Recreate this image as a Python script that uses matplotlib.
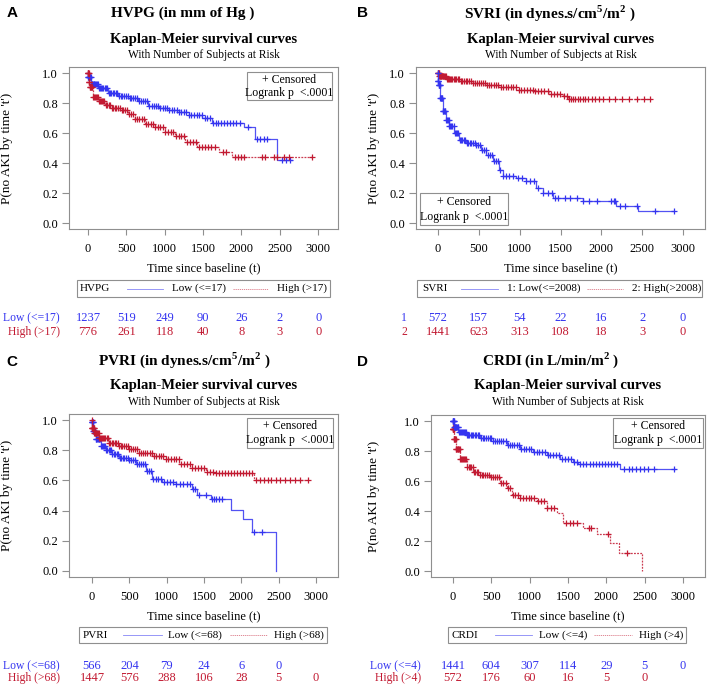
import numpy as np
import matplotlib
matplotlib.use("Agg")
import matplotlib.pyplot as plt
from matplotlib.patches import Rectangle
from matplotlib.lines import Line2D
from matplotlib.transforms import blended_transform_factory

plt.rcParams['font.family'] = 'Liberation Serif'
plt.rcParams['mathtext.fontset'] = 'custom'
plt.rcParams['mathtext.rm'] = 'Liberation Serif'
plt.rcParams['mathtext.bf'] = 'Liberation Serif:bold'

BLUE = '#3434f0'
RED = '#c21a32'
FRAME = '#8f8f8f'

risk_times = [0, 500, 1000, 1500, 2000, 2500, 3000]

# ---- A: HVPG
hvpg_low_t = [0, 3, 44, 131, 263, 394, 526, 657, 788, 920, 1051, 1183, 1314, 1489, 1621, 2037, 2181, 2462, 2663]
hvpg_low_s = [1.0, 0.976, 0.93, 0.897, 0.868, 0.847, 0.834, 0.814, 0.777, 0.766, 0.755, 0.743, 0.723, 0.698, 0.667, 0.642, 0.558, 0.418, 0.418]
hvpg_low_cens = [1, 3, 6, 10, 14, 19, 25, 31, 38, 46, 54, 63, 72, 82, 93, 104, 116, 128, 141, 155, 169, 184,
                 199, 215, 232, 249, 267, 285, 304, 323, 343, 363, 384, 405, 427, 449, 472, 495, 518, 542,
                 566, 591, 616, 641, 667, 693, 719, 746, 773, 800, 828, 856, 884, 913, 942, 971, 1001, 1031,
                 1061, 1092, 1123, 1154, 1186, 1218, 1250, 1283, 1316, 1349, 1383, 1417, 1451, 1486, 1521,
                 1556, 1592, 1628, 1664, 1700, 1737, 1774, 1811, 1848, 1890, 1930, 1975, 2090, 2200, 2240,
                 2290, 2330, 2530, 2580, 2630]
hvpg_high_t = [0, 9, 22, 66, 131, 219, 307, 438, 526, 613, 745, 876, 1007, 1139, 1270, 1424, 1708, 1883, 2926]
hvpg_high_s = [1.0, 0.94, 0.908, 0.84, 0.813, 0.79, 0.766, 0.755, 0.728, 0.694, 0.66, 0.637, 0.608, 0.581, 0.542, 0.506, 0.475, 0.438, 0.438]
hvpg_high_cens = [1, 2, 4, 7, 10, 14, 18, 23, 29, 35, 42, 50, 58, 67, 77, 88, 99, 111, 124, 137, 151, 166,
                  181, 197, 214, 231, 249, 268, 287, 307, 327, 348, 370, 392, 415, 438, 462, 486, 511, 536,
                  562, 588, 615, 642, 670, 698, 727, 756, 786, 816, 847, 878, 910, 942, 975, 1008, 1042,
                  1076, 1111, 1146, 1182, 1218, 1255, 1292, 1330, 1368, 1407, 1446, 1486, 1526, 1566, 1606,
                  1650, 1760, 1800, 1920, 1950, 1990, 2030, 2270, 2310, 2430, 2470, 2560, 2620, 2920]
hvpg_risk_low = [1237, 519, 249, 90, 26, 2, 0]
hvpg_risk_high = [776, 261, 118, 40, 8, 3, 0]

# ---- B: SVRI
svri_low_t = [0, 2, 8, 24, 57, 98, 139, 200, 261, 343, 465, 527, 588, 669, 751, 792, 955, 1078, 1200, 1282, 1404, 1771, 2180, 2445, 2894]
svri_low_s = [1.0, 0.95, 0.922, 0.833, 0.744, 0.689, 0.644, 0.60, 0.556, 0.533, 0.518, 0.489, 0.456, 0.411, 0.356, 0.311, 0.30, 0.278, 0.233, 0.20, 0.167, 0.144, 0.111, 0.082, 0.082]
svri_low_cens = [1, 2, 4, 6, 9, 12, 15, 19, 23, 28, 33, 38, 44, 50, 57, 64, 72, 80, 89, 98, 108, 118, 129,
                 140, 152, 164, 177, 190, 204, 218, 233, 248, 264, 280, 297, 314, 332, 350, 369, 388, 408,
                 428, 449, 470, 492, 514, 537, 560, 584, 608, 633, 658, 684, 710, 737, 764, 792, 830, 870,
                 920, 975, 1030, 1080, 1130, 1180, 1230, 1290, 1350, 1400, 1430, 1470, 1560, 1620, 1700,
                 1780, 1850, 1950, 2120, 2150, 2170, 2230, 2290, 2430, 2650, 2890]
svri_high_t = [0, 16, 98, 261, 424, 588, 751, 955, 1159, 1363, 1527, 1588, 2608]
svri_high_s = [1.0, 0.978, 0.962, 0.949, 0.933, 0.918, 0.904, 0.889, 0.878, 0.86, 0.844, 0.829, 0.829]
svri_high_cens = [1, 3, 5, 8, 12, 16, 21, 27, 33, 40, 48, 56, 65, 75, 85, 96, 108, 120, 133, 147, 161, 176,
                  192, 208, 225, 242, 260, 279, 298, 318, 338, 359, 381, 403, 426, 449, 473, 497, 522, 547,
                  573, 599, 626, 653, 681, 709, 738, 767, 797, 827, 858, 889, 921, 953, 986, 1019, 1053,
                  1087, 1122, 1157, 1193, 1229, 1266, 1303, 1341, 1379, 1418, 1457, 1497, 1537, 1577, 1600,
                  1625, 1650, 1680, 1710, 1740, 1770, 1800, 1840, 1880, 1920, 1970, 2020, 2090, 2170, 2250,
                  2340, 2430, 2520, 2600]
svri_risk_low = [572, 157, 54, 22, 16, 2, 0]
svri_risk_high = [1441, 623, 313, 108, 18, 3, 0]

# ---- C: PVRI
pvri_low_t = [0, 13, 49, 116, 183, 272, 362, 496, 585, 719, 808, 942, 1121, 1344, 1411, 1589, 1866, 2022, 2147, 2460]
pvri_low_s = [0.99, 0.927, 0.872, 0.827, 0.799, 0.772, 0.75, 0.732, 0.706, 0.662, 0.611, 0.591, 0.573, 0.546, 0.502, 0.476, 0.407, 0.341, 0.259, 0.0]
pvri_low_cens = [1, 3, 5, 8, 11, 15, 20, 25, 31, 37, 44, 52, 60, 69, 78, 88, 99, 110, 122, 134, 147, 161,
                 175, 190, 205, 221, 238, 255, 273, 291, 310, 329, 349, 369, 390, 411, 433, 455, 478, 501,
                 525, 549, 574, 599, 625, 651, 678, 705, 733, 761, 790, 820, 850, 885, 920, 960, 1000, 1040,
                 1085, 1130, 1175, 1220, 1265, 1310, 1355, 1380, 1430, 1520, 1600, 1630, 1660, 1700, 1740,
                 2170, 2270]
pvri_high_t = [0, 2, 27, 94, 228, 362, 496, 629, 808, 987, 1165, 1344, 1522, 1656, 2170, 2897]
pvri_high_s = [1.0, 0.95, 0.916, 0.883, 0.85, 0.827, 0.805, 0.783, 0.761, 0.739, 0.71, 0.684, 0.655, 0.646, 0.606, 0.606]
pvri_high_cens = [1, 2, 4, 6, 9, 12, 16, 20, 25, 31, 37, 44, 52, 60, 69, 79, 89, 100, 112, 124, 137, 151,
                  165, 180, 196, 212, 229, 246, 264, 283, 302, 322, 342, 363, 385, 407, 430, 453, 477, 501,
                  526, 551, 577, 603, 630, 657, 685, 713, 742, 771, 801, 831, 862, 893, 925, 957, 990, 1023,
                  1057, 1091, 1126, 1161, 1197, 1233, 1270, 1307, 1345, 1383, 1422, 1461, 1500, 1540, 1580,
                  1620, 1660, 1700, 1740, 1780, 1820, 1860, 1900, 1940, 1980, 2020, 2060, 2100, 2140, 2200,
                  2250, 2300, 2350, 2400, 2460, 2520, 2580, 2650, 2720, 2790, 2890]
pvri_risk_low = [566, 204, 79, 24, 6, 0]
pvri_risk_high = [1447, 576, 288, 106, 28, 5, 0]

# ---- D: CRDI
crdi_low_t = [0, 13, 70, 178, 352, 526, 700, 874, 1048, 1222, 1396, 1570, 1635, 2178, 2896]
crdi_low_s = [1.0, 0.96, 0.927, 0.909, 0.887, 0.865, 0.838, 0.816, 0.794, 0.772, 0.75, 0.728, 0.712, 0.679, 0.679]
crdi_low_cens = [1, 2, 4, 6, 9, 12, 16, 20, 25, 31, 37, 44, 52, 60, 69, 79, 89, 100, 112, 124, 137, 151,
                 165, 180, 196, 212, 229, 246, 264, 283, 302, 322, 342, 363, 385, 407, 430, 453, 477, 501,
                 526, 551, 577, 603, 630, 657, 685, 713, 742, 771, 801, 831, 862, 893, 925, 957, 990, 1023,
                 1057, 1091, 1126, 1161, 1197, 1233, 1270, 1307, 1345, 1383, 1422, 1461, 1500, 1540, 1580,
                 1620, 1660, 1700, 1740, 1780, 1820, 1860, 1900, 1940, 1980, 2020, 2060, 2100, 2140, 2230,
                 2290, 2340, 2390, 2440, 2490, 2540, 2620, 2880]
crdi_high_t = [0, 1, 13, 39, 91, 178, 265, 352, 483, 613, 700, 765, 874, 1091, 1222, 1352, 1439, 1700, 1874, 2048, 2170, 2461]
crdi_high_s = [1.0, 0.95, 0.883, 0.816, 0.75, 0.695, 0.661, 0.639, 0.628, 0.584, 0.551, 0.507, 0.489, 0.467, 0.418, 0.385, 0.319, 0.285, 0.246, 0.186, 0.119, 0.0]
crdi_high_cens = [1, 2, 3, 5, 7, 9, 12, 15, 19, 23, 28, 33, 39, 45, 52, 60, 68, 77, 87, 97, 108, 120, 132,
                  145, 159, 173, 188, 204, 220, 237, 255, 273, 292, 312, 332, 353, 375, 397, 420, 444, 468,
                  493, 518, 544, 571, 598, 626, 655, 685, 715, 746, 778, 810, 843, 877, 912, 948, 985, 1023,
                  1062, 1102, 1143, 1185, 1228, 1272, 1317, 1470, 1520, 1570, 1620, 1770, 1800, 2020, 2270]
crdi_risk_low = [1441, 604, 307, 114, 29, 5, 0]
crdi_risk_high = [572, 176, 60, 16, 5, 0]

W, H = 709, 688
fig = plt.figure(figsize=(W / 100, H / 100), dpi=100)


def ftext(x, y, s, **kw):
    return fig.text(x / W, 1 - y / H, s, **kw)


def fline(x0, x1, y, **kw):
    fig.add_artist(Line2D([x0 / W, x1 / W], [1 - y / H, 1 - y / H],
                          transform=fig.transFigure, **kw))


def fbox(l, t, r, b):
    fig.add_artist(Rectangle((l / W, 1 - b / H), (r - l) / W, (b - t) / H,
                             transform=fig.transFigure, fill=False,
                             edgecolor=FRAME, linewidth=0.8))


panels = [
    dict(letter='A', title='HVPG (in mm of Hg )',
         curves=[(hvpg_low_t, hvpg_low_s, hvpg_low_cens, BLUE, '-'),
                 (hvpg_high_t, hvpg_high_s, hvpg_high_cens, RED, (0, (1.5, 1)))],
         legend=['HVPG', 'Low (<=17)', 'High (>17)'],
         risk_names=['Low (<=17)', 'High (>17)'],
         risk=[hvpg_risk_low, hvpg_risk_high],
         ax=(69, 67, 338, 229), xlim=(-248, 3259), letter_xy=(12, 13), title_x=183,
         top=0, ylab_x=13, cbox=(247, 72, 332, 100),
         leg=(77, 280, 330, 297, 80, 127, 163, 172, 233, 268, 277),
         risk_y=(318, 332), risk_lab_x=60),
    dict(letter='B', title=r'SVRI (in dynes.s/cm$^{\mathbf{5}}$/m$^{\mathbf{2}}$ )',
         curves=[(svri_high_t, svri_high_s, svri_high_cens, RED, (0, (1.5, 1))),
                 (svri_low_t, svri_low_s, svri_low_cens, BLUE, '-')],
         legend=['SVRI', '1: Low(<=2008)', '2: High(>2008)'],
         risk_names=['1', '2'],
         risk=[svri_risk_low, svri_risk_high],
         ax=(416, 67, 705, 229), xlim=(-269, 3268), letter_xy=(362, 13), title_x=550,
         top=0, ylab_x=380, cbox=(420, 193, 508, 225),
         leg=(417, 280, 702, 297, 422, 461, 498, 507, 587, 623, 632),
         risk_y=(318, 332), risk_lab_x=407),
    dict(letter='C', title=r'PVRI (in dynes.s/cm$^{\mathbf{5}}$/m$^{\mathbf{2}}$ )',
         curves=[(pvri_low_t, pvri_low_s, pvri_low_cens, BLUE, '-'),
                 (pvri_high_t, pvri_high_s, pvri_high_cens, RED, (0, (1.5, 1)))],
         legend=['PVRI', 'Low (<=68)', 'High (>68)'],
         risk_names=['Low (<=68)', 'High (>68)'],
         risk=[pvri_risk_low, pvri_risk_high],
         ax=(69, 414, 338, 577), xlim=(-308, 3293), letter_xy=(12, 362), title_x=184,
         top=347, ylab_x=13, cbox=(247, 418, 333, 448),
         leg=(79, 627, 327, 643, 83, 123, 162, 168, 230, 267, 274),
         risk_y=(666, 678), risk_lab_x=60),
    dict(letter='D', title=r'CRDI (in L/min/m$^{\mathbf{2}}$ )',
         curves=[(crdi_high_t, crdi_high_s, crdi_high_cens, RED, (0, (1.5, 1))),
                 (crdi_low_t, crdi_low_s, crdi_low_cens, BLUE, '-')],
         legend=['CRDI', 'Low (<=4)', 'High (>4)'],
         risk_names=['Low (<=4)', 'High (>4)'],
         risk=[crdi_risk_low, crdi_risk_high],
         ax=(431, 415, 705, 577), xlim=(-287, 3286), letter_xy=(362, 362), title_x=551,
         top=347, ylab_x=380, cbox=(613, 418, 703, 448),
         leg=(448, 627, 686, 643, 452, 495, 532, 539, 594, 632, 639),
         risk_y=(666, 678), risk_lab_x=421),
]

for p in panels:
    l, t, r, b = p['ax']
    ax = fig.add_axes([l / W, 1 - b / H, (r - l) / W, (b - t) / H])
    ax.set_xlim(*p['xlim'])
    ax.set_ylim(-0.04, 1.04)
    for sp in ax.spines.values():
        sp.set_color(FRAME)
        sp.set_linewidth(0.8)
    ax.set_xticks(risk_times)
    ax.set_yticks([0.0, 0.2, 0.4, 0.6, 0.8, 1.0])
    ax.set_yticklabels(['0.0', '0.2', '0.4', '0.6', '0.8', '1.0'])
    ax.tick_params(axis='both', color=FRAME, width=0.8, labelsize=9)
    ax.tick_params(axis='x', length=4, pad=6)
    ax.tick_params(axis='y', length=5, pad=3)

    for ct, cs, cens, color, ls in p['curves']:
        ax.step(ct, cs, where='post', color=color, lw=0.9, ls=ls, alpha=0.85)
        idx = np.searchsorted(ct, cens, side='right') - 1
        ax.plot(cens, np.asarray(cs)[idx], ls='none', marker='+', ms=4,
                mew=0.9, color=color)

    ax.set_xlabel('Time since baseline (t)', fontsize=9, labelpad=5)
    ax.yaxis.set_label_coords((p['ylab_x'] - l) / (r - l), 0.5)
    ax.set_ylabel("P(no AKI by time 't')", fontsize=9.5)

    cx = (l + r) / 2
    top = p['top']
    lx, ly = p['letter_xy']
    ftext(lx, ly, p['letter'], family='Liberation Sans', fontweight='bold',
          fontsize=11, ha='center', va='center')
    ftext(p['title_x'], top + 13, p['title'], fontweight='bold', fontsize=11,
          ha='center', va='center')
    ftext(cx, top + 39, 'Kaplan-Meier survival curves', fontweight='bold',
          fontsize=10.5, ha='center', va='center')
    ftext(cx, top + 55, 'With Number of Subjects at Risk', fontsize=8.3,
          ha='center', va='center')

    # censored / logrank box
    bl, bt, br, bb = p['cbox']
    fbox(bl, bt, br, bb)
    ftext((bl + br) / 2, bt + (bb - bt) * 0.27, '+ Censored', fontsize=8.5,
          ha='center', va='center')
    ftext((bl + br) / 2, bt + (bb - bt) * 0.75, 'Logrank p  <.0001', fontsize=8.5,
          ha='center', va='center')

    # legend box below axes
    gl, gt, gr, gb, nx, b0, b1, lowx, r0, r1, highx = p['leg']
    gy = (gt + gb) / 2
    fbox(gl, gt, gr, gb)
    ftext(nx, gy, p['legend'][0], fontsize=8, va='center')
    fline(b0, b1, gy, color=BLUE, lw=0.6, alpha=0.6)
    ftext(lowx, gy, p['legend'][1], fontsize=8, va='center')
    fline(r0, r1, gy, color=RED, lw=0.6, ls=(0, (1.5, 1)), alpha=0.6)
    ftext(highx, gy, p['legend'][2], fontsize=8, va='center')

    # number at risk
    trans = blended_transform_factory(ax.transData, fig.transFigure)
    for row, (name, counts, color) in enumerate(zip(p['risk_names'], p['risk'], [BLUE, RED])):
        y = 1 - p['risk_y'][row] / H
        fig.text(p['risk_lab_x'] / W, y, name, color=color, fontsize=8.4,
                 ha='right', va='center')
        for xt, n in zip(risk_times, counts):
            ax.text(xt, y, str(n), transform=trans, color=color, fontsize=9,
                    ha='center', va='center', clip_on=False)

fig.savefig('out.png', dpi=100)
